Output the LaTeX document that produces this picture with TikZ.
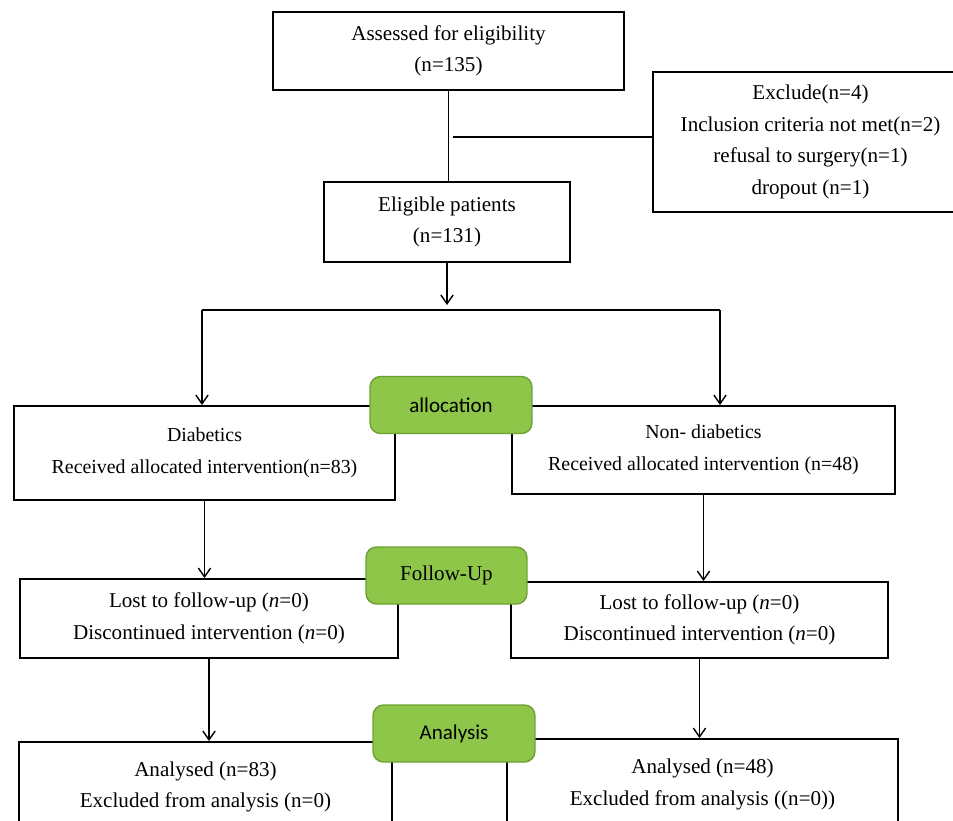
\documentclass[tikz,border=0pt]{standalone}
\usepackage{fontspec}
\setmainfont{Liberation Serif}
\newfontfamily\stagefont{Carlito}
\usetikzlibrary{arrows.meta,positioning,calc}
\definecolor{stagegreen}{RGB}{141,198,72}
\definecolor{stageedge}{RGB}{108,160,52}
\tikzset{
  basebox/.style={rectangle,draw=black,line width=1.1pt,fill=white,align=center,inner sep=0pt,font=\fontsize{12}{18}\selectfont},
  flowbox/.style={basebox},
  groupbox/.style={basebox,font=\fontsize{11.3}{18}\selectfont},
  stagenode/.style={rectangle,rounded corners=6pt,draw=stageedge,fill=stagegreen,line width=0.8pt,minimum width=3.24cm,minimum height=1.14cm,align=center,font=\stagefont\fontsize{12}{14}\selectfont},
  arr/.style={->,>={Straight Barb[length=5pt,width=7pt]},line width=0.8pt,color=black},
  plainline/.style={line width=0.8pt,color=black}
}

\begin{document}
\begin{tikzpicture}[x=0.02cm,y=-0.02cm]
  \useasboundingbox[fill=white] (0,0) rectangle (953,821);
  \clip (0,0) rectangle (953,821);

  % enrolment
  \node[flowbox,minimum width=7.02cm,minimum height=1.56cm] (assess) at (448.5,51)
    {Assessed for eligibility\\(n=135)};
  \node[flowbox,minimum width=4.92cm,minimum height=1.60cm] (elig) at (447,222)
    {Eligible patients\\(n=131)};
  \node[flowbox,minimum width=6.30cm,minimum height=2.80cm] (excl) at (810.5,142)
    {Exclude(n=4)\\Inclusion criteria not met(n=2)\\refusal to surgery(n=1)\\dropout (n=1)};

  % allocation
  \node[groupbox,minimum width=7.62cm,minimum height=1.88cm] (diab) at (204.5,453)
    {Diabetics\\Received allocated intervention(n=83)};
  \node[groupbox,minimum width=7.66cm,minimum height=1.76cm] (nondiab) at (703.5,450)
    {Non- diabetics\\Received allocated intervention (n=48)};

  % follow-up
  \node[flowbox,minimum width=7.56cm,minimum height=1.58cm] (fuL) at (209,618.5)
    {Lost to follow-up (\textit{n}=0)\\Discontinued intervention (\textit{n}=0)};
  \node[flowbox,minimum width=7.54cm,minimum height=1.52cm] (fuR) at (699.5,620)
    {Lost to follow-up (\textit{n}=0)\\Discontinued intervention (\textit{n}=0)};

  % analysis
  \node[flowbox,minimum width=7.46cm,minimum height=1.80cm] (anL) at (205.5,787)
    {Analysed (n=83)\\Excluded from analysis (n=0)};
  \node[flowbox,minimum width=7.82cm,minimum height=1.82cm] (anR) at (702.5,784.5)
    {Analysed (n=48)\\Excluded from analysis ((n=0))};

  \coordinate (exclJ) at (453,137);
  \coordinate (splitTop) at (447,305);
  \coordinate (splitL) at (202,310);
  \coordinate (splitR) at (720,310);

  \draw[plainline] (assess.south) -- (assess.south |- elig.north);
  \draw[plainline] (exclJ) -- (exclJ -| excl.west);
  \draw[arr] (elig.south) -- (splitTop);
  \draw[plainline] (splitL) -- (splitR);
  \draw[arr] (splitL) -- (splitL |- diab.north);
  \draw[arr] (splitR) -- (splitR |- nondiab.north);
  \draw[arr] (diab.south) -- (diab.south |- fuL.north);
  \draw[arr] (nondiab.south) -- (nondiab.south |- fuR.north);
  \draw[arr] (fuL.south) -- (fuL.south |- anL.north);
  \draw[arr] (fuR.south) -- (fuR.south |- anR.north);

  % stage labels
  \node[stagenode] (stAlloc) at (451,405) {allocation};
  \node[stagenode,font=\fontsize{12}{14}\selectfont,minimum width=3.22cm] (stFollow) at (446.5,575.5) {Follow-Up};
  \node[stagenode] (stAnalysis) at (454,733.5) {Analysis};
\end{tikzpicture}
\end{document}
